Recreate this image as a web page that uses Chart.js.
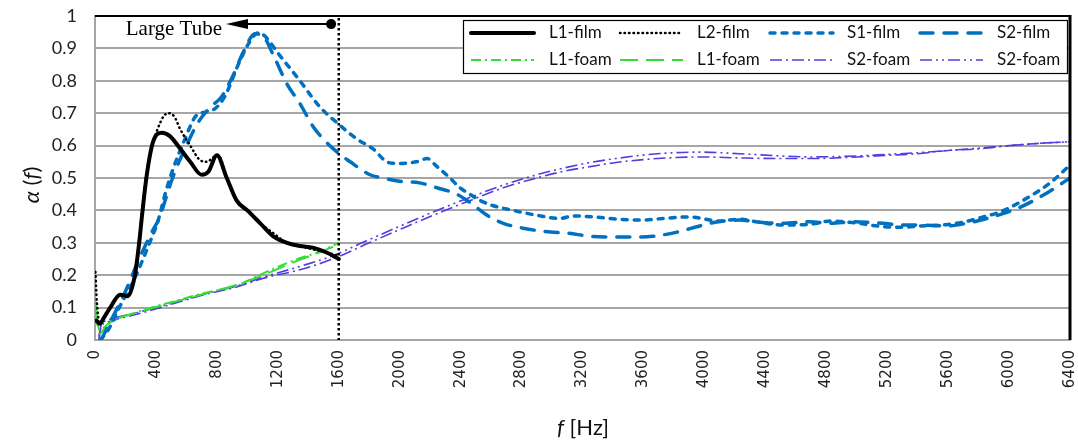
<!DOCTYPE html>
<html>
<head>
<meta charset="utf-8">
<title>Absorption coefficient vs frequency</title>
<script src="https://cdn.jsdelivr.net/npm/chart.js@4.4.1/dist/chart.umd.min.js"></script>
<style>
  html, body { margin: 0; padding: 0; background: #fff; }
  #wrap { width: 1078px; height: 446px; }
</style>
</head>
<body>
<div id="wrap"><canvas id="alphaChart" width="1078" height="446"></canvas></div>
<script>
// absorption coefficient alpha(f), large tube (L) up to 1600 Hz, small tube (S) up to 6400 Hz

var xTickLabels = ['0', '400', '800', '1200', '1600', '2000', '2400', '2800', '3200',
  '3600', '4000', '4400', '4800', '5200', '5600', '6000', '6400'];
var yTickLabels = ['0', '0.1', '0.2', '0.3', '0.4', '0.5', '0.6', '0.7', '0.8', '0.9', '1'];

var seriesNames = ['L1-film', 'L2-film', 'S1-film', 'S2-film', 'L1-foam', 'L1-foam', 'S2-foam', 'S2-foam'];

var l1FilmHz = [10, 30, 60, 100, 165, 215, 262, 290, 310, 340, 380, 440, 490, 560, 625, 700, 745, 800, 865, 930,
  1000, 1085, 1170, 1260, 1345, 1430, 1520, 1600];
var l1FilmAlpha = [0.06, 0.05, 0.07, 0.10, 0.14, 0.135, 0.20, 0.30, 0.39, 0.51, 0.61, 0.64, 0.63, 0.59, 0.55, 0.51, 0.52, 0.57, 0.50, 0.43,
  0.40, 0.36, 0.32, 0.30, 0.29, 0.285, 0.27, 0.25];

var l2FilmHz = [3, 12, 30, 60, 100, 165, 215, 262, 290, 310, 340, 375, 410, 450, 480, 520, 560, 625, 690, 735,
  780, 810, 865, 930, 1000, 1085, 1170, 1260, 1345, 1430, 1520, 1600];
var l2FilmAlpha = [0.21, 0.12, 0.05, 0.07, 0.10, 0.14, 0.135, 0.20, 0.31, 0.40, 0.52, 0.60, 0.65, 0.69, 0.70, 0.69, 0.65, 0.60, 0.555, 0.55,
  0.565, 0.57, 0.50, 0.43, 0.40, 0.36, 0.33, 0.30, 0.29, 0.28, 0.27, 0.26];

var s1FilmHz = [35, 85, 170, 260, 350, 415, 460, 510, 590, 660, 735, 790, 850, 950, 1015, 1070, 1110, 1210, 1345, 1475,
  1590, 1720, 1825, 1915, 1980, 2110, 2180, 2245, 2330, 2395, 2460, 2530, 2610, 2745, 2900, 3050, 3140, 3270, 3430, 3580,
  3750, 3900, 4100, 4230, 4350, 4520, 4690, 4830, 4980, 5170, 5300, 5420, 5590, 5720, 5830, 5940, 6050, 6160, 6270, 6400];
var s1FilmAlpha = [0.0, 0.03, 0.11, 0.19, 0.29, 0.37, 0.45, 0.525, 0.62, 0.69, 0.705, 0.715, 0.75, 0.86, 0.92, 0.948, 0.94, 0.88, 0.80, 0.72,
  0.67, 0.62, 0.59, 0.55, 0.545, 0.55, 0.56, 0.535, 0.50, 0.47, 0.45, 0.43, 0.415, 0.40, 0.385, 0.375, 0.383, 0.38, 0.373, 0.37,
  0.376, 0.38, 0.367, 0.373, 0.364, 0.355, 0.357, 0.367, 0.362, 0.35, 0.348, 0.352, 0.356, 0.366, 0.38, 0.395, 0.42, 0.45, 0.485, 0.54];

var s2FilmHz = [40, 105, 195, 280, 370, 425, 480, 525, 610, 675, 760, 830, 900, 975, 1050, 1100, 1170, 1260, 1345, 1430,
  1520, 1590, 1675, 1805, 1890, 2000, 2130, 2245, 2375, 2460, 2530, 2590, 2680, 2810, 2990, 3100, 3250, 3400, 3530, 3660,
  3820, 3970, 4080, 4230, 4400, 4520, 4690, 4830, 4980, 5170, 5300, 5400, 5590, 5720, 5830, 5940, 6050, 6160, 6270, 6400];
var s2FilmAlpha = [0.0, 0.06, 0.145, 0.24, 0.33, 0.38, 0.46, 0.52, 0.61, 0.67, 0.72, 0.75, 0.81, 0.89, 0.945, 0.94, 0.88, 0.79, 0.73, 0.66,
  0.61, 0.58, 0.55, 0.51, 0.50, 0.49, 0.485, 0.47, 0.45, 0.425, 0.40, 0.38, 0.36, 0.345, 0.333, 0.33, 0.32, 0.318, 0.318, 0.32,
  0.333, 0.352, 0.364, 0.37, 0.362, 0.36, 0.365, 0.36, 0.365, 0.36, 0.355, 0.355, 0.352, 0.36, 0.372, 0.387, 0.405, 0.43, 0.46, 0.50];

var l1FoamHz = [3, 15, 30, 85, 280, 500, 720, 940, 1100, 1330, 1460, 1600];
var l1FoamAAlpha = [0.12, 0.06, 0.03, 0.05, 0.087, 0.117, 0.145, 0.17, 0.205, 0.25, 0.27, 0.30];
var l1FoamBAlpha = [0.10, 0.05, 0.02, 0.05, 0.085, 0.115, 0.143, 0.172, 0.20, 0.245, 0.268, 0.295];

var s2FoamHz = [25, 40, 80, 280, 500, 720, 940, 1100, 1330, 1560, 1800, 2020, 2245, 2460, 2680, 2900, 3070, 3250, 3420, 3580,
  3760, 3970, 4230, 4500, 4700, 5000, 5200, 5400, 5600, 5800, 6000, 6200, 6400];
var s2FoamAAlpha = [0.0, 0.04, 0.055, 0.08, 0.11, 0.14, 0.165, 0.19, 0.215, 0.25, 0.30, 0.345, 0.39, 0.43, 0.47, 0.50, 0.52, 0.535, 0.548, 0.556,
  0.562, 0.565, 0.562, 0.56, 0.56, 0.565, 0.57, 0.575, 0.585, 0.59, 0.60, 0.607, 0.612];
var s2FoamBAlpha = [0.01, 0.045, 0.06, 0.085, 0.113, 0.142, 0.168, 0.193, 0.225, 0.26, 0.31, 0.355, 0.40, 0.44, 0.478, 0.51, 0.53, 0.548, 0.56, 0.57,
  0.577, 0.58, 0.575, 0.568, 0.565, 0.568, 0.573, 0.578, 0.585, 0.592, 0.60, 0.607, 0.612];

// large tube limit and its marker
var largeTubeHz = 1600;
var arrowFromHz = 1550;
var arrowToHz = 860;
var arrowAlpha = 0.975;

var BLUE = '#0070c0';
var GREEN = '#33dd33';
var PURPLE = '#4f3fe0';

function toPoints(hz, alpha) {
  return hz.map(function(f, i) {
    return { x: f, y: alpha[i] };
  });
}

function series(i, hz, alpha, color, width, dash, cap) {
  return {
    label: seriesNames[i],
    data: toPoints(hz, alpha),
    borderColor: color,
    backgroundColor: color,
    borderWidth: width,
    borderDash: dash,
    borderCapStyle: cap || 'butt',
    pointRadius: 0,
    fill: false,
    cubicInterpolationMode: 'monotone'
  };
}

var datasets = [
  series(0, l1FilmHz, l1FilmAlpha, '#000', 4, [], 'round'),
  series(1, l2FilmHz, l2FilmAlpha, '#000', 2.5, [0.5, 4], 'round'),
  series(2, s1FilmHz, s1FilmAlpha, BLUE, 3.5, [5, 7], 'round'),
  series(3, s2FilmHz, s2FilmAlpha, BLUE, 3.5, [13, 11], 'round'),
  series(4, l1FoamHz, l1FoamAAlpha, GREEN, 2, [10, 4, 2, 4]),
  series(5, l1FoamHz, l1FoamBAlpha, GREEN, 2, [18, 8]),
  series(6, s2FoamHz, s2FoamAAlpha, PURPLE, 1.6, [12, 4, 2, 4]),
  series(7, s2FoamHz, s2FoamBAlpha, PURPLE, 1.6, [12, 4, 2, 4, 2, 4])
];

// vertical limit line, arrow, frame and the boxed legend
var overlayPlugin = {
  id: 'overlay',
  afterDatasetsDraw: function(chart) {
    var ctx = chart.ctx;
    var xs = chart.scales.x;
    var ys = chart.scales.y;
    var area = chart.chartArea;

    ctx.save();
    // frame: dark top and right edge
    ctx.strokeStyle = '#000';
    ctx.lineWidth = 2;
    ctx.beginPath();
    ctx.moveTo(area.left, area.top);
    ctx.lineTo(area.right, area.top);
    ctx.stroke();
    ctx.lineWidth = 3;
    ctx.beginPath();
    ctx.moveTo(area.right, area.top - 1);
    ctx.lineTo(area.right, area.bottom);
    ctx.stroke();

    // 1600 Hz limit
    var lx = xs.getPixelForValue(largeTubeHz);
    ctx.lineWidth = 2.5;
    ctx.setLineDash([2.5, 2.5]);
    ctx.beginPath();
    ctx.moveTo(lx, area.top + 2);
    ctx.lineTo(lx, area.bottom);
    ctx.stroke();
    ctx.setLineDash([]);

    // arrow pointing to the large tube range
    var ax0 = xs.getPixelForValue(arrowFromHz);
    var ax1 = xs.getPixelForValue(arrowToHz);
    var ay = ys.getPixelForValue(arrowAlpha);
    ctx.lineWidth = 2;
    ctx.beginPath();
    ctx.moveTo(ax0, ay);
    ctx.lineTo(ax1 + 18, ay);
    ctx.stroke();
    ctx.fillStyle = '#000';
    ctx.beginPath();
    ctx.moveTo(ax1, ay);
    ctx.lineTo(ax1 + 22, ay - 5);
    ctx.lineTo(ax1 + 22, ay + 5);
    ctx.closePath();
    ctx.fill();
    ctx.beginPath();
    ctx.arc(ax0, ay, 5, 0, Math.PI * 2);
    ctx.fill();

    ctx.font = '21px "Liberation Serif", "Times New Roman", serif';
    ctx.textAlign = 'right';
    ctx.textBaseline = 'middle';
    ctx.fillText('Large Tube', ax1 - 4, ay + 5);

    // legend box, 2 rows x 4 columns
    var box = { left: 463, top: 20, right: 1067, bottom: 73 };
    ctx.fillStyle = '#fff';
    ctx.fillRect(box.left, box.top, box.right - box.left, box.bottom - box.top);
    ctx.strokeStyle = '#000';
    ctx.lineWidth = 1.2;
    ctx.strokeRect(box.left + 0.5, box.top + 0.5, box.right - box.left, box.bottom - box.top);

    var lineX = [471, 620, 770, 920];
    var textX = [549, 697, 847, 997];
    var rowY = [33, 60];
    ctx.font = '17px Lato, "Open Sans", sans-serif';
    ctx.textAlign = 'left';
    ctx.textBaseline = 'middle';
    chart.data.datasets.forEach(function(ds, i) {
      var col = i % 4;
      var row = Math.floor(i / 4);
      var y = rowY[row];
      ctx.strokeStyle = ds.borderColor;
      ctx.lineWidth = ds.borderWidth;
      ctx.lineCap = ds.borderCapStyle;
      ctx.setLineDash(ds.borderDash);
      ctx.beginPath();
      ctx.moveTo(lineX[col], y);
      ctx.lineTo(lineX[col] + 63, y);
      ctx.stroke();
      ctx.setLineDash([]);
      ctx.lineCap = 'butt';
      ctx.fillStyle = '#111';
      ctx.fillText(ds.label, textX[col], y);
    });
    ctx.restore();
  },
  afterDraw: function(chart) {
    var ctx = chart.ctx;
    ctx.save();
    ctx.fillStyle = '#111';
    ctx.textBaseline = 'middle';
    var italic = 'italic 22px Lato, "Open Sans", sans-serif';
    var normal = '22px Lato, "Open Sans", sans-serif';

    // x title: f [Hz]
    ctx.font = italic;
    var wf = ctx.measureText('f').width;
    ctx.font = normal;
    var wr = ctx.measureText(' [Hz]').width;
    var sx = 583 - (wf + wr) / 2;
    ctx.textAlign = 'left';
    ctx.font = italic;
    ctx.fillText('f', sx, 428);
    ctx.font = normal;
    ctx.fillText(' [Hz]', sx + wf, 428);

    // y title: alpha (f)
    ctx.translate(32, 185);
    ctx.rotate(-Math.PI / 2);
    var parts = [['α', italic], [' (', normal], ['f', italic], [')', normal]];
    var total = 0;
    parts.forEach(function(p) { ctx.font = p[1]; total += ctx.measureText(p[0]).width; });
    var px = -total / 2;
    parts.forEach(function(p) {
      ctx.font = p[1];
      ctx.fillText(p[0], px, 0);
      px += ctx.measureText(p[0]).width;
    });
    ctx.restore();
  }
};

var ctx = document.getElementById('alphaChart').getContext('2d');
new Chart(ctx, {
  type: 'line',
  data: { datasets: datasets },
  options: {
    responsive: false,
    animation: false,
    layout: { padding: { left: 0, top: 16, right: 8, bottom: 0 } },
    plugins: {
      legend: { display: false },
      tooltip: { enabled: false }
    },
    scales: {
      x: {
        type: 'linear',
        min: 0,
        max: 6400,
        afterFit: function(scale) {
          scale.height = 106;
          scale.paddingLeft = 0;
          scale.paddingRight = 0;
        },
        afterBuildTicks: function(scale) {
          scale.ticks = xTickLabels.map(function(t) { return { value: Number(t) }; });
        },
        grid: { display: false, drawTicks: false },
        border: { display: true, color: '#a6a6a6', width: 2 },
        ticks: {
          autoSkip: false,
          maxRotation: 90,
          minRotation: 90,
          padding: 10,
          color: '#222',
          font: { family: '"DejaVu Sans", Verdana, sans-serif', size: 15 },
          callback: function(value, index) { return xTickLabels[index]; }
        }
      },
      y: {
        min: 0,
        max: 1,
        afterFit: function(scale) {
          scale.width = 95;
          scale.paddingTop = 0;
          scale.paddingBottom = 0;
        },
        afterBuildTicks: function(scale) {
          scale.ticks = yTickLabels.map(function(t) { return { value: Number(t) }; });
        },
        grid: { color: '#a6a6a6', lineWidth: 2, drawTicks: false },
        border: { display: true, color: '#a6a6a6', width: 2 },
        ticks: {
          padding: 18,
          color: '#222',
          font: { family: 'Lato, "Open Sans", sans-serif', size: 18 },
          callback: function(value, index) { return yTickLabels[index]; }
        }
      }
    }
  },
  plugins: [overlayPlugin]
});
</script>
</body>
</html>
